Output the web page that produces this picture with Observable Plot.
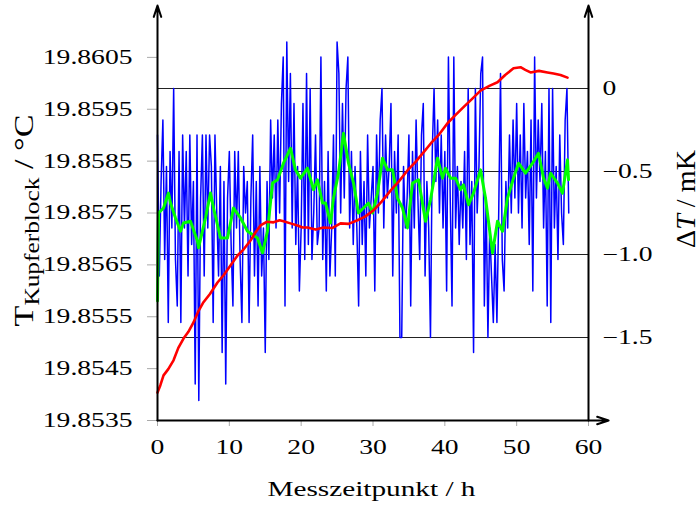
<!DOCTYPE html>
<html><head><meta charset="utf-8">
<script src="https://cdn.jsdelivr.net/npm/d3@7"></script>
<script src="https://cdn.jsdelivr.net/npm/@observablehq/plot@0.6"></script>
<style>body{margin:0;background:#fff;} #chart{width:700px;height:510px;}</style>
</head><body><div id="chart"></div>
<script>
// ---- data ----
const stepH = 0.25; // measurement interval (h)
const blueDeltaT = [
-0.28,-1.13,-0.56,-0.19,-1.03,-0.47,-1.41,-0.38,-0.84,0,
-1.03,-1.31,-0.38,-1.41,-0.28,-0.84,-0.38,-1.13,-0.28,-0.94,
-0.56,-1.78,-0.28,-1.88,-0.66,-0.28,-1.13,-0.28,-0.84,-0.28,
-0.47,-1.41,-0.28,-0.75,-1.13,-0.47,-1.59,-0.56,-1.78,-0.66,
-0.38,-0.94,-1.31,-0.38,-0.84,-0.38,-1.03,-1.41,-0.47,-0.75,
-0.56,-1.41,-0.66,-0.28,-1.13,-0.56,-1.31,-0.47,-1.13,-0.84,
-1.59,-0.56,-1.03,-0.19,-0.66,-0.28,-0.84,-0.19,-0.75,-0.09,
0.19,-1.31,0.28,-0.56,0.09,-0.84,-0.09,-0.94,-0.47,-1.22,
-0.84,-0.09,-1.03,0.09,-0.94,0,-1.03,-0.75,-0.28,-0.94,
-0.84,0.19,-1.03,-0.56,-1.22,-0.38,-1.13,-0.84,-0.28,-1.13,
0.28,0.09,-0.75,-0.09,-0.66,0,0.19,-0.84,-0.38,-0.94,
-0.47,-0.84,-1.31,-0.38,-0.94,-0.56,-1.13,-0.28,-0.84,-0.66,
-0.47,-1.22,-0.28,-0.75,-0.19,0,-0.84,-0.28,-0.66,-0.47,
-0.09,-1.13,-0.38,-0.75,-0.28,-1.5,-1.5,-0.47,-0.84,-0.66,
-0.28,-1.31,-0.38,-0.84,-0.19,-0.66,-1.03,-0.28,-0.09,-1.13,
-0.56,-0.84,-1.5,-0.38,0,-0.56,-0.19,-0.75,-0.28,-0.84,
-0.38,-1.22,0.19,-0.66,-1.31,0.19,-0.84,-0.47,-0.94,-0.56,
-0.84,-0.38,-1.03,0,-0.94,-0.56,-1.59,0,-0.75,-0.47,
0.09,0.19,-1.31,-0.66,-1.5,-0.84,-1.13,-1.41,-0.94,-1.41,
-0.75,0.09,-1.03,-1.22,-0.56,-0.84,-0.28,-0.75,-0.19,-0.66,
-0.09,-0.75,-0.28,-0.84,-0.09,-0.66,-0.38,-0.94,-0.19,-1.22,
0.19,-0.66,-0.19,-0.56,-0.09,-0.84,-0.38,-1.31,0,-1.41,
0,-0.84,-0.47,-1.03,-0.28,-0.75,-0.94,-0.19,0,-0.75
];
const greenHours = [0,0.14,0.84,1.53,1.81,2.51,3.2,3.62,4.59,5.57,5.71,6.68,7.38,7.8,8.77,9.75,10.58,11.56,12.53,13.92,14.62,15.31,16.01,16.71,17.54,18.52,19.21,19.91,20.88,21.72,22.27,22.97,23.39,24.08,24.5,25.2,25.89,26.59,27.29,27.98,28.68,29.37,29.93,30.63,31.32,32.02,32.72,33.41,34.11,34.8,35.5,36.34,37.31,38.01,38.98,39.68,40.09,40.79,41.49,42.18,42.6,43.3,43.99,44.97,45.66,46.64,47.33,48.03,48.73,49.56,50.26,51.23,52.21,53.04,53.74,54.29,54.71,55.69,56.38,57.08,57.22];
const greenDeltaT = [-1.28,-0.75,-0.72,-0.63,-0.69,-0.78,-0.86,-0.81,-0.8,-0.92,-0.96,-0.78,-0.63,-0.72,-0.9,-0.9,-0.72,-0.78,-0.86,-0.9,-0.99,-0.86,-0.57,-0.55,-0.45,-0.36,-0.49,-0.54,-0.48,-0.61,-0.55,-0.69,-0.69,-0.81,-0.66,-0.51,-0.27,-0.45,-0.57,-0.75,-0.72,-0.69,-0.75,-0.63,-0.42,-0.49,-0.49,-0.66,-0.72,-0.84,-0.57,-0.55,-0.8,-0.67,-0.42,-0.54,-0.48,-0.54,-0.54,-0.61,-0.58,-0.7,-0.63,-0.49,-0.66,-0.99,-0.8,-0.86,-0.66,-0.54,-0.45,-0.51,-0.45,-0.39,-0.54,-0.6,-0.51,-0.57,-0.63,-0.43,-0.55];
const redHours = [0,0.4,0.84,1.5,2.23,2.9,3.62,4.3,5.01,5.7,6.4,7.3,8.35,9.2,10.16,11.14,12.0,12.95,13.6,14.34,15.2,16.15,17.0,17.54,18.5,19.49,20.2,20.88,22.0,23.11,24.3,25.48,26.6,27.84,28.9,30.07,31.2,32.44,33.6,34.8,35.9,37.03,38.1,39.12,40.37,41.5,42.6,43.8,44.97,46.2,47.33,48.4,49.56,50.54,51.2,51.93,53.1,54.29,55.13,56.1,57.08];
const redTemp = [19.85404,19.85418,19.85437,19.85449,19.85466,19.8549,19.85508,19.85521,19.85539,19.85561,19.85578,19.85594,19.85616,19.8563,19.85649,19.85668,19.8568,19.85697,19.85712,19.85726,19.85733,19.85732,19.85736,19.85734,19.8573,19.85726,19.85722,19.85722,19.85718,19.85722,19.85721,19.8573,19.85729,19.85736,19.85743,19.85755,19.85772,19.85793,19.85811,19.85832,19.85848,19.85867,19.85885,19.859,19.85923,19.85939,19.85954,19.8597,19.85986,19.85995,19.86002,19.86016,19.86029,19.86031,19.86026,19.86021,19.86024,19.86021,19.86019,19.86016,19.86011];
const xTicks = [0,10,20,30,40,50,60];
const leftTicks = [19.8535,19.8545,19.8555,19.8565,19.8575,19.8585,19.8595,19.8605];
const rightTicks = [0,-0.5,-1.0,-1.5];
const xDomain = [0,60];
const xAxisEnd = 62.8;
const leftDomain = [19.8535,19.8615];
const rightDomain = [-2.0,0.5];

// ---- helpers ----
const toLeft = v => leftDomain[0] + (v - rightDomain[0]) / (rightDomain[1]-rightDomain[0]) * (leftDomain[1]-leftDomain[0]);
const fromLeft = d => Math.round(((d - leftDomain[0]) / (leftDomain[1]-leftDomain[0]) * (rightDomain[1]-rightDomain[0]) + rightDomain[0]) * 10) / 10;
const fmtRight = v => v === 0 ? "0" : (v < 0 ? "\u2212" : "") + Math.abs(v).toFixed(1);

const blue = blueDeltaT.map((v,i) => ({h: i*stepH, t: toLeft(v)}));
const green = greenHours.map((h,i) => ({h, t: toLeft(greenDeltaT[i])}));
const red = redHours.map((h,i) => ({h, t: redTemp[i]}));
const axisLines = [
  {x1: xDomain[0], y1: leftDomain[0], x2: xDomain[0], y2: leftDomain[1]},
  {x1: xDomain[1], y1: leftDomain[0], x2: xDomain[1], y2: leftDomain[1]},
  {x1: xDomain[0], y1: leftDomain[0], x2: xAxisEnd, y2: leftDomain[0]}
];

const W = 700, H = 510, mL = 157, mR = 112, mT = 5, mB = 90;
const plot = Plot.plot({
  width: W, height: H, marginLeft: mL, marginRight: mR, marginTop: mT, marginBottom: mB,
  style: {fontFamily: "'Liberation Serif', serif", fontSize: "20px", color: "black", background: "white", overflow: "visible"},
  x: {domain: xDomain},
  y: {domain: leftDomain},
  marks: [
    Plot.ruleY(rightTicks.map(toLeft), {x1: xDomain[0], x2: xDomain[1], stroke: "#222", strokeWidth: 1}),
    Plot.line(blue, {x: "h", y: "t", stroke: "#0000ff", strokeWidth: 1.5}),
    Plot.line(green, {x: "h", y: "t", stroke: "#00ff00", strokeWidth: 3}),
    Plot.line(red, {x: "h", y: "t", stroke: "#ff0000", strokeWidth: 2.6}),
    Plot.axisX({ticks: xTicks, tickSize: 6, tickPadding: 13, stroke: "#aaa", fill: "black", label: null, tickFormat: d => String(d)}),
    Plot.axisY({anchor: "left", ticks: leftTicks, tickSize: 10, tickPadding: 15, stroke: "#aaa", fill: "black", label: null, tickFormat: d => d.toFixed(4)}),
    Plot.axisY({anchor: "right", ticks: rightTicks.map(toLeft), tickSize: 0, tickPadding: 14, fill: "black", label: null, tickFormat: d => fmtRight(fromLeft(d))}),
    Plot.arrow(axisLines, {x1: "x1", y1: "y1", x2: "x2", y2: "y2", stroke: "black", strokeWidth: 2, headLength: 9, headAngle: 36})
  ]
});
document.getElementById("chart").appendChild(plot);

const svg = d3.select(plot);
// stretch tick labels horizontally to match the wide serif of the original
plot.querySelectorAll("text").forEach(t => {
  const w = t.getComputedTextLength();
  if (w > 0) { t.setAttribute("textLength", w * 1.38); t.setAttribute("lengthAdjust", "spacingAndGlyphs"); }
});

// x label
const xl = svg.append("text")
  .attr("x", (mL + (W - mR)) / 2 - 1).attr("y", H - 14)
  .attr("text-anchor", "middle").style("font-size", "20px").text("Messzeitpunkt / h");
xl.attr("textLength", 208).attr("lengthAdjust", "spacingAndGlyphs");

// left label
const ll = svg.append("text")
  .attr("transform", `translate(33,${(mT + H - mB) / 2 + 8}) rotate(-90)`)
  .attr("text-anchor", "middle").style("font-size", "27px");
ll.append("tspan").text("T");
ll.append("tspan").attr("dy", 6).style("font-size", "20px").text("Kupferblock");
ll.append("tspan").attr("dy", -6).text(" / \u00B0C");
ll.attr("textLength", 212).attr("lengthAdjust", "spacingAndGlyphs");

// right label
const rl = svg.append("text")
  .attr("transform", `translate(695,199) rotate(-90)`)
  .attr("text-anchor", "middle").style("font-size", "27px");
rl.append("tspan").text("\u0394");
rl.append("tspan").style("font-style", "italic").text("T");
rl.append("tspan").text(" / mK");
rl.attr("textLength", 98).attr("lengthAdjust", "spacingAndGlyphs");
</script>
</body></html>
